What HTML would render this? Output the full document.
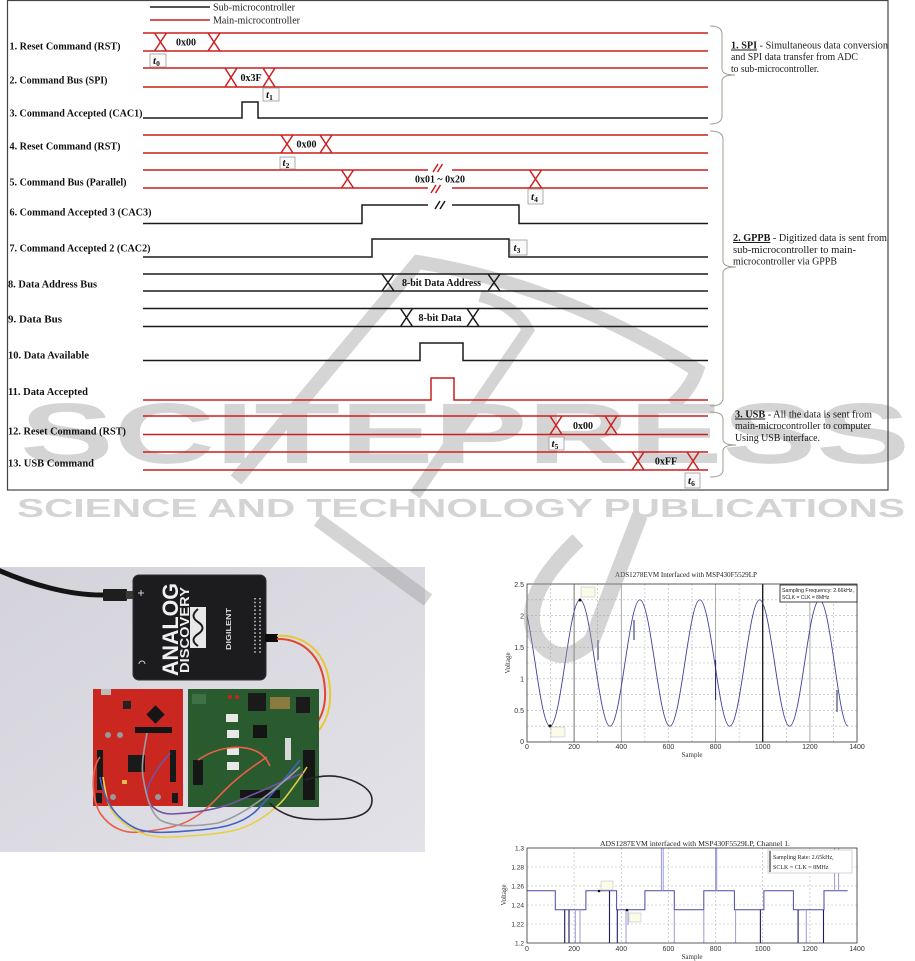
<!DOCTYPE html>
<html>
<head>
<meta charset="utf-8">
<style>
html,body{margin:0;padding:0;background:#fff;}
body{width:915px;height:961px;overflow:hidden;}
svg{display:block;}
</style>
</head>
<body>
<svg width="915" height="961" viewBox="0 0 915 961" xmlns="http://www.w3.org/2000/svg">
<defs>
  <linearGradient id="pbg" x1="0" y1="0" x2="1" y2="1">
    <stop offset="0" stop-color="#d4d3db"/>
    <stop offset="1" stop-color="#e3e2e8"/>
  </linearGradient>
  <clipPath id="c1"><rect x="527" y="584" width="330" height="158"/></clipPath>
  <clipPath id="c2"><rect x="527" y="848" width="330" height="95"/></clipPath>
</defs>
<rect x="0" y="0" width="915" height="961" fill="#fff"/>

<!-- ================= PHOTO ================= -->
<g>
  <rect x="0" y="567" width="425" height="285" fill="url(#pbg)"/>
  <path d="M-2 570 C 30 584 70 596 106 595" stroke="#141414" stroke-width="5" fill="none"/>
  <rect x="103" y="589" width="24" height="12" rx="1" fill="#1e1e1e"/>
  <rect x="126" y="591" width="8" height="8" fill="#3a3a3a"/>
  <rect x="133" y="575" width="133" height="105" rx="6" fill="#1c1c1f" stroke="#303034"/>
  <text transform="translate(178,676) rotate(-90)" font-family="Liberation Sans, sans-serif" font-weight="bold" font-size="22" fill="#f0f0f0" textLength="93" lengthAdjust="spacingAndGlyphs">ANALOG</text>
  <text transform="translate(189,673) rotate(-90)" font-family="Liberation Sans, sans-serif" font-weight="bold" font-size="12.5" fill="#f0f0f0" textLength="86" lengthAdjust="spacingAndGlyphs">DISCOVERY</text>
  <rect x="190" y="607" width="16" height="41" fill="#e8e8e8"/>
  <path d="M198 609 C 192 614 192 618 198 622 C 204 626 204 630 198 634 C 192 638 192 642 198 646" stroke="#1c1c1f" stroke-width="2" fill="none"/>
  <text transform="translate(231,650) rotate(-90)" font-family="Liberation Sans, sans-serif" font-weight="bold" font-size="7" fill="#ddd" textLength="42" lengthAdjust="spacingAndGlyphs">DIGILENT</text>
  <path d="M255 598 V655 M260 598 V655" stroke="#cfcfcf" stroke-width="1.5" stroke-dasharray="1.5 2.3"/>
  <path d="M141 590 v6 M138 593 h6" stroke="#ccc" stroke-width="1"/>
  <path d="M139 664 a3 3 0 0 1 6 0" stroke="#ccc" stroke-width="1" fill="none"/>
  <rect x="265" y="634" width="13" height="8" fill="#0e0e0e"/>
  <!-- wires from connector -->
  <path d="M277 636 C300 634 328 648 330 690 C332 725 312 746 280 750 C245 753 210 749 198 759" stroke="#e8c832" stroke-width="2" fill="none"/>
  <path d="M277 639 C298 638 323 652 325 690 C327 722 306 742 276 746 C243 749 212 745 200 756" stroke="#e0452e" stroke-width="2" fill="none"/>

  <!-- red board -->
  <rect x="93" y="689" width="90" height="117" fill="#c9271f"/>
  <rect x="101" y="689" width="10" height="6" fill="#bbb"/>
  <rect x="149" y="708" width="13" height="13" fill="#161616" transform="rotate(45 155.5 714.5)"/>
  <rect x="123" y="701" width="8" height="8" fill="#222"/>
  <rect x="135" y="727" width="37" height="6" fill="#141414"/>
  <circle cx="108" cy="735" r="3" fill="#999"/><circle cx="120" cy="735" r="3" fill="#999"/>
  <rect x="128" y="755" width="17" height="17" fill="#1a1a1a"/>
  <rect x="97" y="750" width="6" height="40" fill="#181818"/>
  <rect x="170" y="750" width="6" height="32" fill="#181818"/>
  <circle cx="113" cy="797" r="3" fill="#999"/><circle cx="158" cy="797" r="3" fill="#999"/>
  <rect x="96" y="793" width="6" height="10" fill="#181818"/><rect x="172" y="793" width="6" height="10" fill="#181818"/>
  <rect x="122" y="780" width="5" height="4" fill="#e8b84a"/>
  <!-- green board -->
  <rect x="188" y="689" width="131" height="118" fill="#2a5b2f"/>
  <rect x="248" y="693" width="18" height="18" fill="#1a1a1a"/>
  <rect x="270" y="697" width="20" height="12" fill="#8a7a40"/>
  <rect x="296" y="697" width="14" height="16" fill="#1a1a1a"/>
  <circle cx="230" cy="697" r="2" fill="#d02020"/><circle cx="237" cy="697" r="2" fill="#d02020"/>
  <rect x="226" y="714" width="12" height="8" fill="#e8e8e8"/>
  <rect x="227" y="730" width="12" height="8" fill="#e8e8e8"/>
  <rect x="227" y="748" width="12" height="7" fill="#e8e8e8"/>
  <rect x="227" y="762" width="12" height="8" fill="#e8e8e8"/>
  <rect x="253" y="725" width="14" height="13" fill="#141414"/>
  <rect x="285" y="738" width="6" height="22" fill="#d8d8d8"/>
  <rect x="303" y="750" width="12" height="50" fill="#161616"/>
  <rect x="193" y="760" width="10" height="25" fill="#161616"/>
  <rect x="240" y="790" width="40" height="8" fill="#161616"/>
  <rect x="192" y="694" width="14" height="10" fill="#3e7246"/>
  <!-- loose wires -->
  <path d="M100 757 C90 770 92 800 100 813 C110 828 125 834 140 832 C160 830 180 826 190 820 C205 812 215 800 225 790 C240 775 255 765 267 757" stroke="#e8604a" stroke-width="1.6" fill="none"/>
  <path d="M103 777 C106 795 108 808 115 815 C130 832 150 838 170 837 C195 836 220 834 236 830 C255 825 275 810 285 798 C295 785 302 775 307 767" stroke="#e6cf44" stroke-width="1.6" fill="none"/>
  <path d="M100 777 C104 800 115 818 135 828 C150 835 175 832 200 830 C220 828 240 825 255 812 C272 795 288 775 300 760" stroke="#4262c4" stroke-width="1.6" fill="none"/>
  <path d="M170 753 C160 765 148 780 147 793 C147 806 158 814 172 814 C195 813 215 810 233 803 C260 792 285 780 303 773" stroke="#7252a2" stroke-width="1.6" fill="none"/>
  <path d="M147 733 C144 750 141 765 143 777 C146 795 150 812 160 820 C175 828 200 826 218 823 C245 815 275 790 300 767" stroke="#9c9ca4" stroke-width="1.6" fill="none"/>
  <path d="M305 780 C318 776 330 775 340 777 C355 780 372 788 372 800 C372 812 360 818 340 819 C318 820 300 820 288 815 C278 811 272 806 270 803" stroke="#262626" stroke-width="1.6" fill="none"/>
  <path d="M198 760 C215 748 240 743 258 752 C265 756 268 762 270 766" stroke="#e8604a" stroke-width="1.6" fill="none"/>
</g>

<!-- ================= GRAPH 1 ================= -->
<g font-family="Liberation Sans, sans-serif">
  <text x="686" y="577" font-family="Liberation Serif, serif" font-size="7.5" fill="#222" text-anchor="middle" textLength="142" lengthAdjust="spacingAndGlyphs">ADS1278EVM Interfaced with MSP430F5529LP</text>
  <rect x="527" y="584" width="330" height="158" fill="#fff"/>
  <g stroke="#b5b5b5" stroke-width="0.6" stroke-dasharray="2 2">
    <path d="M550.6 584V742 M574.1 584V742 M597.7 584V742 M621.3 584V742 M644.9 584V742 M668.4 584V742 M692 584V742 M715.6 584V742 M739.1 584V742 M762.7 584V742 M786.3 584V742 M809.9 584V742 M833.4 584V742"/>
    <path d="M527 726.2H857 M527 710.4H857 M527 694.6H857 M527 678.8H857 M527 663H857 M527 647.2H857 M527 631.4H857 M527 615.6H857 M527 599.8H857"/>
  </g>
  <g stroke-width="0.8">
    <path d="M574.1 584V742" stroke="#555"/>
    <path d="M621.3 584V742" stroke="#999"/>
    <path d="M715.6 584V742" stroke="#999"/>
    <path d="M809.9 584V742" stroke="#999"/>
    <path d="M762.7 584V742" stroke="#111" stroke-width="1.3"/>
  </g>
  <path clip-path="url(#c1)" fill="none" stroke="#4040a0" stroke-width="0.9" d="M520.2,599.8 C531.1,599.8 539.2,726.2 550.1,726.2 C561.0,726.2 569.1,599.8 580.0,599.8 C590.9,599.8 599.1,726.2 610.0,726.2 C620.9,726.2 629.0,599.8 639.9,599.8 C650.8,599.8 658.9,726.2 669.8,726.2 C680.7,726.2 688.9,599.8 699.8,599.8 C710.7,599.8 718.8,726.2 729.7,726.2 C740.6,726.2 748.7,599.8 759.6,599.8 C770.5,599.8 778.7,726.2 789.6,726.2 C800.5,726.2 808.6,599.8 819.5,599.8 C830.4,599.8 838.6,726.2 848,726"/>
  <path d="M715.6 660V700 M598 640V660 M634 620V640 M837 690V712" stroke="#22226a" stroke-width="1"/>
  <rect x="527" y="584" width="330" height="158" fill="none" stroke="#333" stroke-width="0.8"/>
  <circle cx="580" cy="600" r="1.5" fill="#111"/><circle cx="550" cy="726" r="1.5" fill="#111"/>
  <rect x="581" y="587" width="14" height="10" fill="#fbfbe8" stroke="#aaa" stroke-width="0.4"/>
  <rect x="551" y="727" width="14" height="10" fill="#fbfbe8" stroke="#aaa" stroke-width="0.4"/>
  <rect x="780" y="585" width="77" height="17" fill="#fff" stroke="#111" stroke-width="0.8"/>
  <text x="782" y="592" font-size="5" fill="#222" textLength="72" lengthAdjust="spacingAndGlyphs">Sampling Frequency: 2.66kHz,</text>
  <text x="782" y="599" font-size="5" fill="#222">SCLK = CLK = 8MHz</text>
  <g font-size="7" fill="#333" text-anchor="end">
    <text x="524" y="587">2.5</text><text x="524" y="618.5">2</text><text x="524" y="650">1.5</text>
    <text x="524" y="681.5">1</text><text x="524" y="713">0.5</text><text x="524" y="744">0</text>
  </g>
  <g font-size="7" fill="#333" text-anchor="middle">
    <text x="527" y="749">0</text><text x="574.1" y="749">200</text><text x="621.3" y="749">400</text>
    <text x="668.4" y="749">600</text><text x="715.6" y="749">800</text><text x="762.7" y="749">1000</text>
    <text x="809.9" y="749">1200</text><text x="857" y="749">1400</text>
  </g>
  <text x="692" y="757" font-family="Liberation Serif, serif" font-size="7" fill="#333" text-anchor="middle">Sample</text>
  <text transform="translate(510,663) rotate(-90)" font-family="Liberation Serif, serif" font-size="7" fill="#333" text-anchor="middle">Voltage</text>
</g>

<!-- ================= GRAPH 2 ================= -->
<g font-family="Liberation Sans, sans-serif">
  <text x="695" y="846" font-family="Liberation Serif, serif" font-size="7.5" fill="#222" text-anchor="middle" textLength="190" lengthAdjust="spacingAndGlyphs">ADS1287EVM interfaced with MSP430F5529LP, Channel 1.</text>
  <rect x="527" y="848" width="330" height="95" fill="#fff"/>
  <g stroke="#b5b5b5" stroke-width="0.6" stroke-dasharray="2 2">
    <path d="M574.1 848V943 M621.3 848V943 M668.4 848V943 M715.6 848V943 M762.7 848V943 M809.9 848V943"/>
    <path d="M527 867H857 M527 886H857 M527 905H857 M527 924H857"/>
  </g>
  <g clip-path="url(#c2)">
    <path d="M527 890.75 H555.3 V909.75 H585.9 V890.75 H616.6 V909.75 H644.9 V890.75 H674.3 V909.75 H703.8 V890.75 H734.4 V909.75 H763.9 V890.75 H793.4 V909.75 H824 V890.75 H847.6" fill="none" stroke="#4a4aa8" stroke-width="1"/>
    <path d="M575.3 909.75V943 M580 909.75V943 M626 909.75V943 M674.3 909.75V943 M703.8 909.75V943 M735.6 909.75V943 M806.3 909.75V943 M661.4 890.75V848 M663.2 890.75V848 M715.6 890.75V848 M716.7 890.75V848 M834.6 890.75V848 M838.6 890.75V848 M628 909V925" stroke="#9a9ad8" stroke-width="1"/>
    <path d="M564.7 909.75V943 M569 909.75V943 M609.5 890.75V943 M617.3 909.75V943 M760.4 909.75V943 M798.1 909.75V943 M823.5 909.75V943" stroke="#1c1c66" stroke-width="1.1"/>
  </g>
  <rect x="527" y="848" width="330" height="95" fill="none" stroke="#333" stroke-width="0.8"/>
  <circle cx="599" cy="891" r="1.3" fill="#111"/><circle cx="627" cy="910" r="1.3" fill="#111"/>
  <rect x="601" y="881" width="12" height="9" fill="#fbfbe8" stroke="#aaa" stroke-width="0.4"/>
  <rect x="629" y="913" width="12" height="9" fill="#fbfbe8" stroke="#aaa" stroke-width="0.4"/>
  <rect x="768" y="850" width="84" height="23" fill="#fff" stroke="#bbb" stroke-width="0.6"/>
  <path d="M770 851V872" stroke="#111" stroke-width="1"/>
  <text x="773" y="859" font-family="Liberation Serif, serif" font-size="6" fill="#222">Sampling Rate: 2.65kHz,</text>
  <text x="773" y="869" font-family="Liberation Serif, serif" font-size="6" fill="#222">SCLK = CLK = 8MHz</text>
  <g font-size="6.5" fill="#333" text-anchor="end">
    <text x="524" y="850.5">1.3</text><text x="524" y="869.5">1.28</text><text x="524" y="888.5">1.26</text>
    <text x="524" y="907.5">1.24</text><text x="524" y="926.5">1.22</text><text x="524" y="945.5">1.2</text>
  </g>
  <g font-size="7" fill="#333" text-anchor="middle">
    <text x="527" y="951">0</text><text x="574.1" y="951">200</text><text x="621.3" y="951">400</text>
    <text x="668.4" y="951">600</text><text x="715.6" y="951">800</text><text x="762.7" y="951">1000</text>
    <text x="809.9" y="951">1200</text><text x="857" y="951">1400</text>
  </g>
  <text x="692" y="959" font-family="Liberation Serif, serif" font-size="7" fill="#333" text-anchor="middle">Sample</text>
  <text transform="translate(506,895) rotate(-90)" font-family="Liberation Serif, serif" font-size="7" fill="#333" text-anchor="middle">Voltage</text>
</g>

<!-- ================= WATERMARK ================= -->
<g opacity="0.42">
  <text x="20" y="463" font-family="Liberation Sans, sans-serif" font-weight="bold" font-size="86" fill="#9a9a9a" textLength="890" lengthAdjust="spacingAndGlyphs">SCITEPRESS</text>
  <text x="17" y="517" font-family="Liberation Sans, sans-serif" font-weight="bold" font-size="26" fill="#9a9a9a" textLength="888" lengthAdjust="spacingAndGlyphs">SCIENCE AND TECHNOLOGY PUBLICATIONS</text>
  <g fill="none" stroke="#9a9a9a">
    <path d="M236 480 L418 262 Q560 285 697 370 Q690 390 672 405" stroke-width="14"/>
    <path d="M415 495 L528 330 Q515 305 480 296" stroke-width="12"/>
    <path d="M318 520 L428 600" stroke-width="14"/>
    <path d="M578 540 Q515 600 538 640 Q560 670 592 640 L640 515" stroke-width="16"/>
  </g>
</g>

<!-- ================= TIMING DIAGRAM ================= -->
<g fill="none" stroke-linecap="butt">
  <!-- red -->
  <path stroke="#cc1f1f" stroke-width="1.5" d="
    M150 20 H210
    M143 33 H708 M143 51 H708
    M143 68 H708 M143 87 H708
    M143 135 H708 M143 153 H708
    M143 170 H428 M452 170 H708 M143 188 H428 M452 188 H708
    M143 400 H431 V378 H454 V400 H708
    M143 416 H708 M143 434.5 H708
    M143 452 H708 M143 470 H708
    M154.5 33 L166.5 51 M154.5 51 L166.5 33
    M208 33 L220 51 M208 51 L220 33
    M225 68 L237 87 M225 87 L237 68
    M263 68 L275 87 M263 87 L275 68
    M281 135 L293 153 M281 153 L293 135
    M320 135 L332 153 M320 153 L332 135
    M341.5 170 L353.5 188 M341.5 188 L353.5 170
    M529.5 170 L541.5 188 M529.5 188 L541.5 170
    M550 416 L562 434.5 M550 434.5 L562 416
    M605 416 L617 434.5 M605 434.5 L617 416
    M632 452 L644 470 M632 470 L644 452
    M687 452 L699 470 M687 470 L699 452
    M433 172 L438 164 M437.5 172 L442.5 164
    M431 193 L436 185 M435.5 193 L440.5 185"/>
  <!-- black -->
  <path stroke="#1a1a1a" stroke-width="1.5" d="
    M150 7 H210
    M143 118 H242 V102 H258 V118 H708
    M143 223.5 H362 V205 H428 M452 205 H519 V223.5 H708
    M143 257 H372 V239 H509 V257 H708
    M143 274 H708 M143 291 H708
    M382 274 L394 291 M382 291 L394 274
    M488 274 L500 291 M488 291 L500 274
    M143 308.5 H708 M143 326.5 H708
    M400.5 308.5 L412.5 326.5 M400.5 326.5 L412.5 308.5
    M467 308.5 L479 326.5 M467 326.5 L479 308.5
    M143 360.5 H420 V343 H463 V360.5 H708
    M435 209 L440 201 M440 209 L445 201"/>
  <!-- braces -->
  <path stroke="#9aa08f" stroke-width="1" d="
    M710 26 Q722 26 722 34 L722 69 Q722 75 735 75 Q722 75 722 81 L722 116 Q722 124 710 124
    M710 131 Q723 131 723 139 L723 261 Q723 267 736 267 Q723 267 723 273 L723 398 Q723 406 710 406
    M710 412 Q723 412 723 419 L723 439 Q723 445 736 445 Q723 445 723 451 L723 470 Q723 477 710 477"/>
</g>

<!-- time markers -->
<g font-family="Liberation Serif, serif" font-weight="bold" font-style="italic" fill="#111">
  <g fill="#fafafa" stroke="#9a9a9a" stroke-width="0.8">
    <rect x="150" y="54" width="16" height="13"/>
    <rect x="263" y="88" width="16" height="13"/>
    <rect x="280" y="157" width="15" height="12"/>
    <rect x="528" y="189" width="15" height="15"/>
    <rect x="510" y="240" width="17" height="15"/>
    <rect x="549" y="437" width="15" height="13"/>
    <rect x="685" y="473" width="15" height="15"/>
  </g>
  <text x="153" y="64" font-size="11">t<tspan font-size="7.5" dy="2" font-style="normal">0</tspan></text>
  <text x="266" y="98" font-size="11">t<tspan font-size="7.5" dy="2" font-style="normal">1</tspan></text>
  <text x="282.5" y="166" font-size="11">t<tspan font-size="7.5" dy="2" font-style="normal">2</tspan></text>
  <text x="531" y="200" font-size="11">t<tspan font-size="7.5" dy="2" font-style="normal">4</tspan></text>
  <text x="513.5" y="251" font-size="11">t<tspan font-size="7.5" dy="2" font-style="normal">3</tspan></text>
  <text x="551.5" y="447" font-size="11">t<tspan font-size="7.5" dy="2" font-style="normal">5</tspan></text>
  <text x="688" y="484" font-size="11">t<tspan font-size="7.5" dy="2" font-style="normal">6</tspan></text>
</g>

<!-- legend text -->
<g font-family="Liberation Serif, serif" font-size="10" fill="#222">
  <text x="213" y="10.5" textLength="82" lengthAdjust="spacingAndGlyphs">Sub-microcontroller</text>
  <text x="213" y="23.5" textLength="87" lengthAdjust="spacingAndGlyphs">Main-microcontroller</text>
</g>

<!-- left labels -->
<g font-family="Liberation Serif, serif" font-size="10" font-weight="bold" fill="#111">
  <text x="9.5" y="49.5" textLength="111" lengthAdjust="spacingAndGlyphs">1. Reset Command (RST)</text>
  <text x="9.5" y="83.5" textLength="98" lengthAdjust="spacingAndGlyphs">2. Command Bus (SPI)</text>
  <text x="9.5" y="116.5" textLength="133" lengthAdjust="spacingAndGlyphs">3. Command Accepted (CAC1)</text>
  <text x="9.5" y="149.5" textLength="111" lengthAdjust="spacingAndGlyphs">4. Reset Command (RST)</text>
  <text x="9.5" y="185.5" textLength="117" lengthAdjust="spacingAndGlyphs">5. Command Bus (Parallel)</text>
  <text x="9.5" y="215.5" textLength="142" lengthAdjust="spacingAndGlyphs">6. Command Accepted 3 (CAC3)</text>
  <text x="9.5" y="251.5" textLength="141" lengthAdjust="spacingAndGlyphs">7. Command Accepted 2 (CAC2)</text>
  <text x="8" y="287.5" textLength="89" lengthAdjust="spacingAndGlyphs">8. Data Address Bus</text>
  <text x="8" y="322.5" textLength="54" lengthAdjust="spacingAndGlyphs">9. Data Bus</text>
  <text x="8" y="358.5" textLength="81" lengthAdjust="spacingAndGlyphs">10. Data Available</text>
  <text x="8" y="395" textLength="80" lengthAdjust="spacingAndGlyphs">11. Data Accepted</text>
  <text x="8" y="434.5" textLength="118" lengthAdjust="spacingAndGlyphs">12. Reset Command (RST)</text>
  <text x="8" y="466.5" textLength="86" lengthAdjust="spacingAndGlyphs">13. USB Command</text>
</g>

<!-- in-bus labels -->
<g font-family="Liberation Serif, serif" font-size="10" font-weight="bold" fill="#111" text-anchor="middle">
  <text x="186" y="45.5">0x00</text>
  <text x="251" y="81">0x3F</text>
  <text x="306.5" y="147.5">0x00</text>
  <text x="440" y="182.5" textLength="50" lengthAdjust="spacingAndGlyphs">0x01 ~ 0x20</text>
  <text x="441.5" y="286" textLength="79" lengthAdjust="spacingAndGlyphs">8-bit Data Address</text>
  <text x="440" y="321" textLength="43" lengthAdjust="spacingAndGlyphs">8-bit Data</text>
  <text x="583" y="429">0x00</text>
  <text x="666" y="464.5">0xFF</text>
</g>

<!-- right annotations -->
<g font-family="Liberation Serif, serif" font-size="10" fill="#1a1a1a">
  <text x="731" y="48.5" textLength="157" lengthAdjust="spacingAndGlyphs"><tspan font-weight="bold" text-decoration="underline">1. SPI</tspan> - Simultaneous data conversion</text>
  <text x="731" y="60" textLength="127" lengthAdjust="spacingAndGlyphs">and SPI data transfer from ADC</text>
  <text x="731" y="72" textLength="88" lengthAdjust="spacingAndGlyphs">to sub-microcontroller.</text>
  <text x="733" y="241" textLength="154" lengthAdjust="spacingAndGlyphs"><tspan font-weight="bold" text-decoration="underline">2. GPPB</tspan> - Digitized data is sent from</text>
  <text x="733" y="253" textLength="123" lengthAdjust="spacingAndGlyphs">sub-microcontroller to main-</text>
  <text x="733" y="264.5" textLength="104" lengthAdjust="spacingAndGlyphs">microcontroller via GPPB</text>
  <text x="735" y="417.5" textLength="137" lengthAdjust="spacingAndGlyphs"><tspan font-weight="bold" text-decoration="underline">3. USB</tspan> - All the data is sent from</text>
  <text x="735" y="429" textLength="136" lengthAdjust="spacingAndGlyphs">main-microcontroller to computer</text>
  <text x="735" y="441" textLength="85" lengthAdjust="spacingAndGlyphs">Using USB interface.</text>
</g>

<!-- frame -->
<rect x="7.5" y="0.5" width="880.5" height="489.5" fill="none" stroke="#444" stroke-width="1.2"/>
</svg>
</body>
</html>
